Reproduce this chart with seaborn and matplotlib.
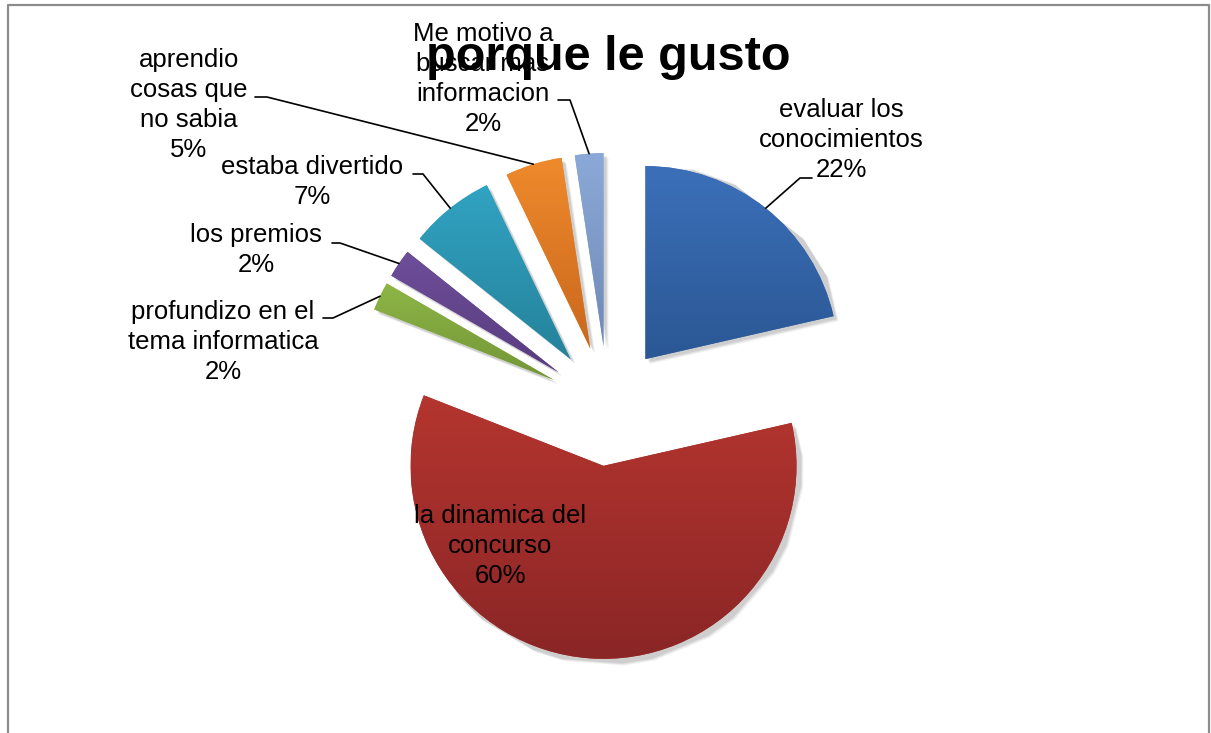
import numpy as np
import matplotlib.pyplot as plt
import seaborn as sns
from matplotlib.colors import LinearSegmentedColormap

# slices, clockwise from 12 o'clock
categories = [
    "evaluar los\nconocimientos",
    "la dinamica del\nconcurso",
    "profundizo en el\ntema informatica",
    "los premios",
    "estaba divertido",
    "aprendio\ncosas que\nno sabia",
    "Me motivo a\nbuscar mas\ninformacion",
]
counts = [9, 25, 1, 1, 3, 2, 1]
pct_labels = ["22%", "60%", "2%", "2%", "7%", "5%", "2%"]

top_colors = ["#3B70B9", "#B5352F", "#8DB646", "#6E4E9A", "#31A3C2", "#EF8A2C", "#8BA9D8"]
bottom_colors = ["#2B5794", "#8A2626", "#739538", "#583C7E", "#25829B", "#C9671D", "#7089B6"]

W, H = 1211, 733

# label block centres and leader elbows (pixel coords, y from top)
label_pos = [(841, 140), (500, 546), (223, 342), (256, 250), (312, 182), (189, 105), (483, 79)]
leaders = [
    [(812, 178), (800, 178)],
    None,
    [(323, 318), (333, 318)],
    [(332, 243), (340, 243)],
    [(413, 174), (423, 174)],
    [(255, 97), (267, 97)],
    [(558, 100), (570, 100)],
]

sns.set_theme(style="white")
plt.rcParams["font.family"] = ["Liberation Sans", "DejaVu Sans"]

fig = plt.figure(figsize=(W / 100, H / 100), dpi=100)
ax = fig.add_axes([0, 0, 1, 1])

cx, cy, R = 608, H - 406, 193
# matplotlib's explode offset is in data units here (pixels)
wedges, _ = ax.pie(
    counts,
    colors=sns.color_palette(top_colors),
    startangle=90,
    counterclock=False,
    explode=[60] * len(counts),
    radius=R,
    center=(cx, cy),
    wedgeprops=dict(linewidth=0),
)

# soft shadow + vertical gradient per slice, like the excel style
for i, w in enumerate(wedges):
    for k, a in [(5, 0.05), (4, 0.07), (3, 0.08)]:
        sh = plt.Polygon(w.get_path().vertices + [k, -k], closed=True,
                         facecolor="black", alpha=a, lw=0, zorder=0.5)
        ax.add_patch(sh)
    w.set_zorder(1)
    x0, y0, x1, y1 = w.get_path().get_extents().extents
    cmap = LinearSegmentedColormap.from_list("g", [bottom_colors[i], top_colors[i]])
    grad = np.linspace(0, 1, 256).reshape(-1, 1)
    im = ax.imshow(grad, cmap=cmap, extent=(x0, x1, y0, y1), origin="lower",
                   aspect="auto", zorder=1.5)
    im.set_clip_path(w)

for i, w in enumerate(wedges):
    tx, ty = label_pos[i]
    ax.text(tx, H - ty, categories[i] + "\n" + pct_labels[i], ha="center", va="center",
            fontsize=18.5, linespacing=1.32, color="black", zorder=3)
    if leaders[i] is None:
        continue
    mid = np.deg2rad((w.theta1 + w.theta2) / 2)
    ax_, ay_ = w.center[0] + w.r * np.cos(mid), w.center[1] + w.r * np.sin(mid)
    (ex, ey), (bx, by) = leaders[i]
    ax.plot([ex, bx, ax_], [H - ey, H - by, ay_], color="black", lw=1.2, zorder=2.5)

ax.text(608, H - 58, "porque le gusto", ha="center", va="center",
        fontsize=35, fontweight="bold", color="black", zorder=4)

# chart frame
ax.plot([8, 8, 1209, 1209], [-10, H - 5, H - 5, -10], color="#8c8c8c", lw=1.6,
        clip_on=False, zorder=5)

ax.set_xlim(0, W)
ax.set_ylim(0, H)
ax.axis("off")

fig.savefig("out.png", dpi=100)
